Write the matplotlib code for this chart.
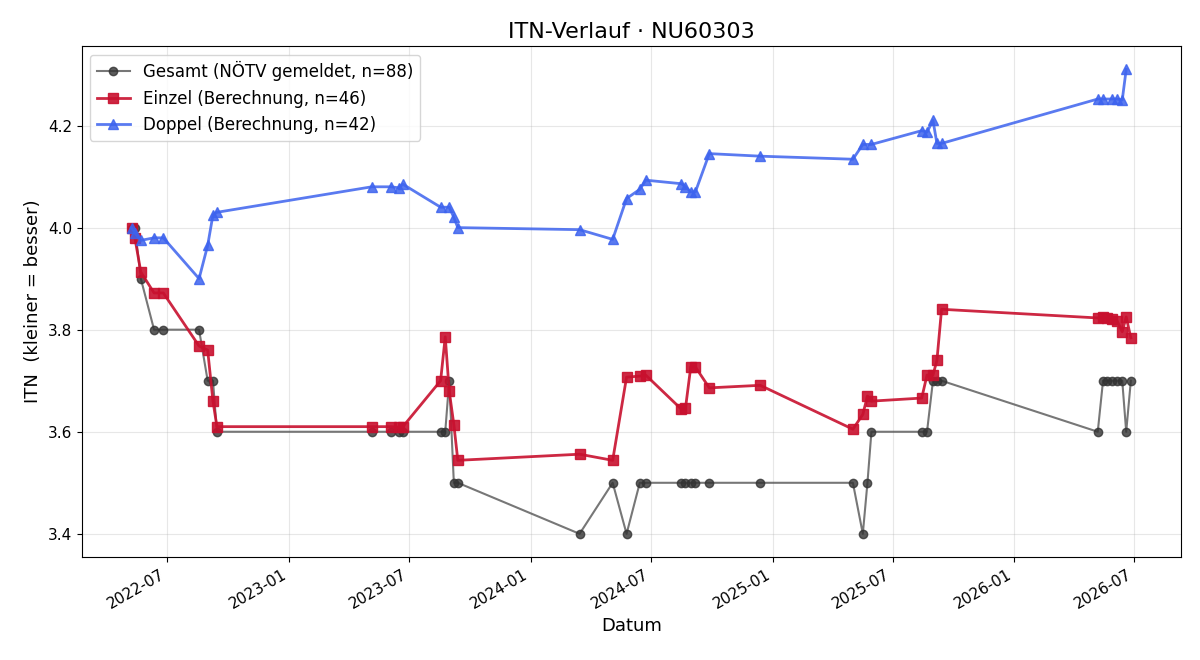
import pandas as pd
import matplotlib
matplotlib.use("Agg")
import matplotlib.pyplot as plt
import matplotlib.dates as mdates

# --- DATA ---
GESAMT_DATES = [
    "2022-05-08", "2022-05-13", "2022-05-22", "2022-06-11", "2022-06-25",
    "2022-08-18", "2022-08-31", "2022-09-08", "2022-09-14",
    "2023-05-06", "2023-06-04", "2023-06-16", "2023-06-22",
    "2023-08-18", "2023-08-25", "2023-08-31", "2023-09-07", "2023-09-13",
    "2024-03-15", "2024-05-04", "2024-05-25", "2024-06-14", "2024-06-23",
    "2024-08-16", "2024-08-22", "2024-08-30", "2024-09-06", "2024-09-27",
    "2024-12-13",
    "2025-05-02", "2025-05-17", "2025-05-24", "2025-05-30",
    "2025-08-14", "2025-08-22", "2025-08-31", "2025-09-06", "2025-09-13",
    "2026-05-07", "2026-05-15", "2026-05-21", "2026-05-29", "2026-06-05",
    "2026-06-13", "2026-06-19", "2026-06-26",
]
GESAMT_VALUES = [
    4.0, 4.0, 3.9, 3.8, 3.8,
    3.8, 3.7, 3.7, 3.6,
    3.6, 3.6, 3.6, 3.6,
    3.6, 3.6, 3.7, 3.5, 3.5,
    3.4, 3.5, 3.4, 3.5, 3.5,
    3.5, 3.5, 3.5, 3.5, 3.5,
    3.5,
    3.5, 3.4, 3.5, 3.6,
    3.6, 3.6, 3.7, 3.7, 3.7,
    3.6, 3.7, 3.7, 3.7, 3.7,
    3.7, 3.6, 3.7,
]

EINZEL_DATES = [
    "2022-05-08", "2022-05-13", "2022-05-22", "2022-06-11", "2022-06-25",
    "2022-08-18", "2022-08-31", "2022-09-08", "2022-09-14",
    "2023-05-06", "2023-06-04", "2023-06-16", "2023-06-22",
    "2023-08-18", "2023-08-25", "2023-08-31", "2023-09-07", "2023-09-13",
    "2024-03-15", "2024-05-04", "2024-05-25", "2024-06-14", "2024-06-23",
    "2024-08-16", "2024-08-22", "2024-08-30", "2024-09-06", "2024-09-27",
    "2024-12-13",
    "2025-05-02", "2025-05-17", "2025-05-24", "2025-05-30",
    "2025-08-14", "2025-08-22", "2025-08-31", "2025-09-06", "2025-09-13",
    "2026-05-07", "2026-05-15", "2026-05-21", "2026-05-29", "2026-06-05",
    "2026-06-13", "2026-06-19", "2026-06-26",
]
EINZEL_VALUES = [
    4.000, 3.980, 3.913, 3.872, 3.872,
    3.768, 3.760, 3.660, 3.610,
    3.610, 3.610, 3.609, 3.610,
    3.700, 3.786, 3.680, 3.614, 3.544,
    3.556, 3.544, 3.707, 3.709, 3.711,
    3.644, 3.646, 3.727, 3.727, 3.686,
    3.691,
    3.605, 3.634, 3.670, 3.660,
    3.666, 3.711, 3.711, 3.740, 3.840,
    3.823, 3.824, 3.822, 3.820, 3.818,
    3.796, 3.825, 3.784,
]

DOPPEL_DATES = [
    "2022-05-08", "2022-05-13", "2022-05-22", "2022-06-11", "2022-06-25",
    "2022-08-18", "2022-08-31", "2022-09-08", "2022-09-14",
    "2023-05-06", "2023-06-04", "2023-06-16", "2023-06-22",
    "2023-08-18", "2023-08-31", "2023-09-07", "2023-09-13",
    "2024-03-15", "2024-05-04", "2024-05-25", "2024-06-14", "2024-06-23",
    "2024-08-16", "2024-08-22", "2024-08-30", "2024-09-06", "2024-09-27",
    "2024-12-13",
    "2025-05-02", "2025-05-17", "2025-05-30",
    "2025-08-14", "2025-08-22", "2025-08-31", "2025-09-06", "2025-09-13",
    "2026-05-07", "2026-05-15", "2026-05-29", "2026-06-05", "2026-06-13",
    "2026-06-19",
]
DOPPEL_VALUES = [
    4.000, 3.990, 3.975, 3.980, 3.980,
    3.900, 3.965, 4.025, 4.030,
    4.080, 4.080, 4.078, 4.085,
    4.040, 4.040, 4.020, 4.000,
    3.996, 3.977, 4.057, 4.075, 4.093,
    4.086, 4.080, 4.070, 4.070, 4.145,
    4.140,
    4.134, 4.163, 4.163,
    4.190, 4.187, 4.210, 4.165, 4.165,
    4.252, 4.252, 4.252, 4.252, 4.250,
    4.310,
]

TITLE = "ITN-Verlauf · NU60303"
LABEL_GESAMT = "Gesamt (NÖTV gemeldet, n=88)"
LABEL_EINZEL = "Einzel (Berechnung, n=46)"
LABEL_DOPPEL = "Doppel (Berechnung, n=42)"


def main():
    fig, ax = plt.subplots(figsize=(12, 6.6), dpi=100)

    ax.plot(pd.to_datetime(GESAMT_DATES), GESAMT_VALUES, color='#555555', alpha=0.8,
            linewidth=1.5, marker='o', markersize=6, markerfacecolor='#333333',
            markeredgecolor='#333333', label=LABEL_GESAMT)
    ax.plot(pd.to_datetime(EINZEL_DATES), EINZEL_VALUES, color='#c8102e', alpha=0.9,
            linewidth=2, marker='s', markersize=7, label=LABEL_EINZEL)
    ax.plot(pd.to_datetime(DOPPEL_DATES), DOPPEL_VALUES, color='#3d63ee', alpha=0.85,
            linewidth=2, marker='^', markersize=7, label=LABEL_DOPPEL)

    ax.set_title(TITLE, fontsize=16)
    ax.set_xlabel("Datum", fontsize=13)
    ax.set_ylabel("ITN  (kleiner = besser)", fontsize=13)
    ax.grid(True, alpha=0.3)
    ax.legend(loc='upper left', fontsize=12)

    ax.xaxis.set_major_locator(mdates.MonthLocator(bymonth=[1, 7]))
    ax.xaxis.set_major_formatter(mdates.DateFormatter('%Y-%m'))
    ax.tick_params(labelsize=11)
    fig.autofmt_xdate()

    fig.subplots_adjust(left=0.068, right=0.984, top=0.930, bottom=0.156)
    fig.savefig("out.png", dpi=100)
    plt.close(fig)


if __name__ == '__main__':
    main()
